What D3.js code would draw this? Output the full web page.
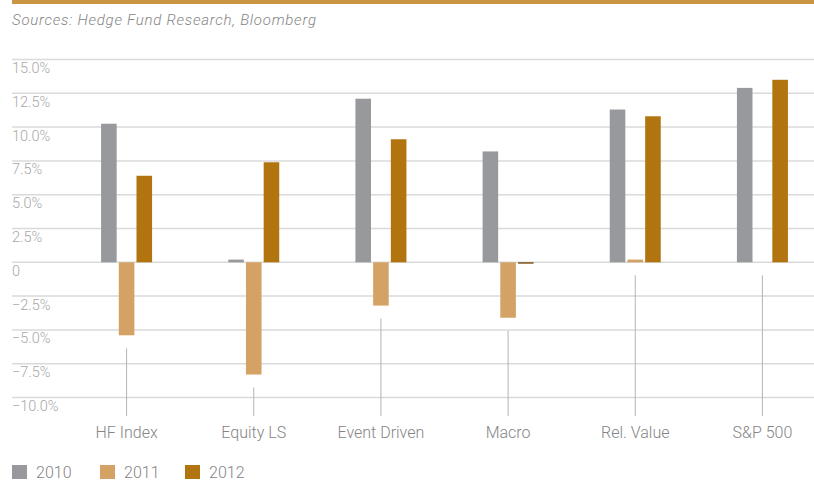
<!DOCTYPE html>
<html>
<head>
<meta charset="utf-8">
<script src="https://cdn.jsdelivr.net/npm/d3@7"></script>
<style>
  body { margin: 0; background: #fff; }
  svg { display: block; font-family: Roboto, 'Open Sans', sans-serif; font-weight: 300; }
</style>
</head>
<body>
<div id="chart"></div>
<script>
  const categories = ['HF Index', 'Equity LS', 'Event Driven', 'Macro', 'Rel. Value', 'S&P 500'];
  const years = ['2010', '2011', '2012'];
  const values2010 = [10.25, 0.2, 12.1, 8.2, 11.3, 12.9];
  const values2011 = [-5.4, -8.3, -3.2, -4.1, 0.2, 0];
  const values2012 = [6.4, 7.4, 9.1, -0.1, 10.8, 13.5];
  const yTicks = [15, 12.5, 10, 7.5, 5, 2.5, 0, -2.5, -5, -7.5, -10];

  const COLORS = {
    '2010': '#98999d',
    '2011': '#d4a264',
    '2012': '#b1740f',
    'neg2012': '#6e4504',
    'rule': '#c99443',
    'grid': '#dadada',
    'tick': '#b4b4b4',
    'label': '#858585',
    'axis': '#a8a8a8'
  };

  const width = 814, height = 481;
  const series = [values2010, values2011, values2012];

  const svg = d3.select('#chart').append('svg')
    .attr('width', width).attr('height', height);

  // top rule + source line
  svg.append('rect').attr('x', 12).attr('y', 0).attr('width', width - 12).attr('height', 4)
    .attr('fill', COLORS.rule);
  svg.append('text').text('Sources: Hedge Fund Research, Bloomberg')
    .attr('x', 12).attr('y', 25)
    .style('font-style', 'italic').style('font-size', '15px')
    .style('letter-spacing', '0.75px')
    .attr('fill', COLORS.label);

  const y = d3.scaleLinear().domain([-10, 15]).range([397.5, 59.5]);
  const x = d3.scaleBand().domain(categories).range([63, 826]);
  const x1 = d3.scaleBand().domain(years).range([-25.5, 25.5]).paddingInner(0.12);

  // gridlines + labels
  const grid = svg.append('g').attr('class', 'grid');
  grid.selectAll('line').data(yTicks).enter().append('line')
    .attr('x1', 12).attr('x2', width)
    .attr('y1', d => y(d)).attr('y2', d => y(d))
    .attr('stroke', COLORS.grid).attr('stroke-width', 1.5);
  grid.selectAll('text').data(yTicks).enter().append('text')
    .text(d => d === 0 ? '0' : d3.format('.1f')(d) + '%')
    .attr('x', 12).attr('y', d => y(d) + 13.5)
    .style('font-size', '14.5px')
    .attr('fill', COLORS.axis);

  // category tick lines
  const ticks = svg.append('g').attr('class', 'ticks');
  ticks.selectAll('line').data(categories).enter().append('line')
    .attr('x1', d => x(d) + x.bandwidth() / 2).attr('x2', d => x(d) + x.bandwidth() / 2)
    .attr('y1', (d, i) => y(Math.min(0, values2010[i], values2011[i], values2012[i])) + 13)
    .attr('y2', 416)
    .attr('stroke', COLORS.tick).attr('stroke-width', 1);

  ticks.selectAll('text').data(categories).enter().append('text')
    .text(d => d)
    .attr('x', d => x(d) + x.bandwidth() / 2).attr('y', 438)
    .attr('text-anchor', 'middle')
    .style('font-size', '16px')
    .attr('fill', COLORS.label);

  // bars
  const groups = svg.append('g').attr('class', 'bars')
    .selectAll('g').data(categories).enter().append('g')
    .attr('transform', d => `translate(${x(d) + x.bandwidth() / 2}, 0)`);

  groups.selectAll('rect')
    .data((d, i) => years.map((yr, j) => ({ year: yr, value: series[j][i] })))
    .enter().append('rect')
    .attr('x', d => x1(d.year))
    .attr('width', x1.bandwidth())
    .attr('y', d => y(Math.max(0, d.value)))
    .attr('height', d => Math.abs(y(d.value) - y(0)))
    .attr('fill', d => (d.year === '2012' && d.value < 0) ? COLORS.neg2012 : COLORS[d.year]);

  // legend
  const legend = svg.append('g').attr('class', 'legend')
    .attr('transform', 'translate(12, 465)');
  const items = legend.selectAll('g').data(years).enter().append('g')
    .attr('transform', (d, i) => `translate(${[0, 88, 173][i]}, 0)`);
  items.append('rect').attr('width', 15).attr('height', 14).attr('fill', d => COLORS[d]);
  items.append('text').text(d => d)
    .attr('x', 24).attr('y', 13)
    .style('font-size', '16px')
    .attr('fill', COLORS.label);
</script>
</body>
</html>
